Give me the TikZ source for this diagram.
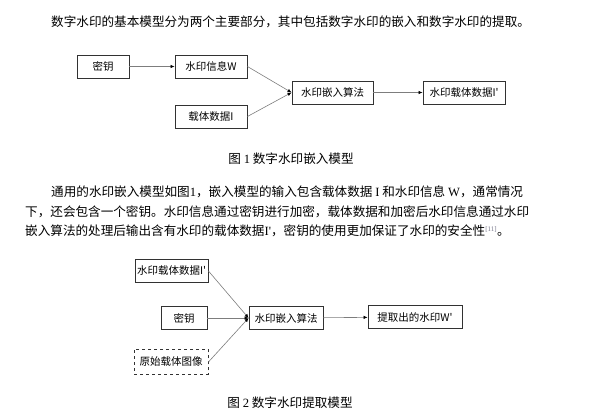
\documentclass[tikz,border=0pt]{standalone}
\usepackage{fontspec}
\usepackage{tikz}
\usetikzlibrary{
    positioning,
    arrows.meta
}
\newfontfamily\cjk{Noto Sans CJK SC}
\newfontfamily\latin{Liberation Serif}
\definecolor{LineGray}{RGB}{125,125,125}
\definecolor{EdgeDark}{RGB}{50,50,50}
\definecolor{CiteGray}{RGB}{120,120,140}

\begin{document}
\begin{tikzpicture}[
    x=1pt, y=-1pt,
    font=\cjk\fontsize{12.6}{15}\selectfont,
    block/.style={draw=EdgeDark, line width=0.9pt, minimum height=23pt, inner sep=0pt,
        font=\cjk\fontsize{10.5}{12}\selectfont},
    flow/.style={LineGray, line width=0.6pt, -{Latex[length=4pt, width=3.5pt, color=black]}},
    textline/.style={anchor=west, inner sep=0pt},
    caption/.style={inner sep=0pt},
]
    \useasboundingbox (0,0) rectangle (613,411);

    % Intro line
    \node[textline] (intro) at (51,22) {数字水印的基本模型分为两个主要部分，其中包括数字水印的嵌入和数字水印的提取。};

    % Figure 1: embedding
    \node[block, minimum width=52pt] (key1) at (103,66.5) {密钥};
    \node[block, minimum width=72pt] (wm) at (211,66.5) {水印信息W};
    \node[block, minimum width=72pt] (host) at (211,116.5) {载体数据I};
    \node[block, minimum width=81pt] (embed) at (332.5,92.5) {水印嵌入算法};
    \node[block, minimum width=82pt] (marked) at (464,92.5) {水印载体数据I'};

    \draw[flow] (key1) -- (wm);
    \draw[flow] (wm.east) -- (embed.west);
    \draw[flow] (host.east) -- (embed.west);
    \draw[flow] (embed) -- (marked);

    \node[caption] (cap1) at (291,159) {图 {\latin 1} 数字水印嵌入模型};

    % Paragraph
    \node[textline] (par1) at (51,192) {通用的水印嵌入模型如图{\latin 1}，嵌入模型的输入包含载体数据 {\latin I} 和水印信息 {\latin W}，通常情况};
    \node[textline] (par2) at (25,212) {下，还会包含一个密钥。水印信息通过密钥进行加密，载体数据和加密后水印信息通过水印};
    \node[textline] (par3) at (25,231) {嵌入算法的处理后输出含有水印的载体数据{\latin I'}，密钥的使用更加保证了水印的安全性\textsuperscript{\color{CiteGray}\latin\fontsize{7}{8}\selectfont[11]}。};

    % Figure 2: extraction
    \node[block, minimum width=73pt] (marked2) at (171.5,271) {水印载体数据I'};
    \node[block, minimum width=46pt] (key2) at (184,318) {密钥};
    \node[block, minimum width=74pt, minimum height=25pt, dashed] (orig) at (171,362) {原始载体图像};
    \node[block, minimum width=74pt] (extract) at (286,318) {水印嵌入算法};
    \node[block, minimum width=94pt] (out) at (415,317) {提取出的水印W'};

    \draw[flow] (marked2.east) -- (extract.west);
    \draw[flow] (key2) -- (extract);
    \draw[flow] (orig.east) -- (extract.west);
    \draw[flow] (extract) -- (out);

    \node[caption] (cap2) at (290,403) {图 {\latin 2} 数字水印提取模型};

\end{tikzpicture}
\end{document}
